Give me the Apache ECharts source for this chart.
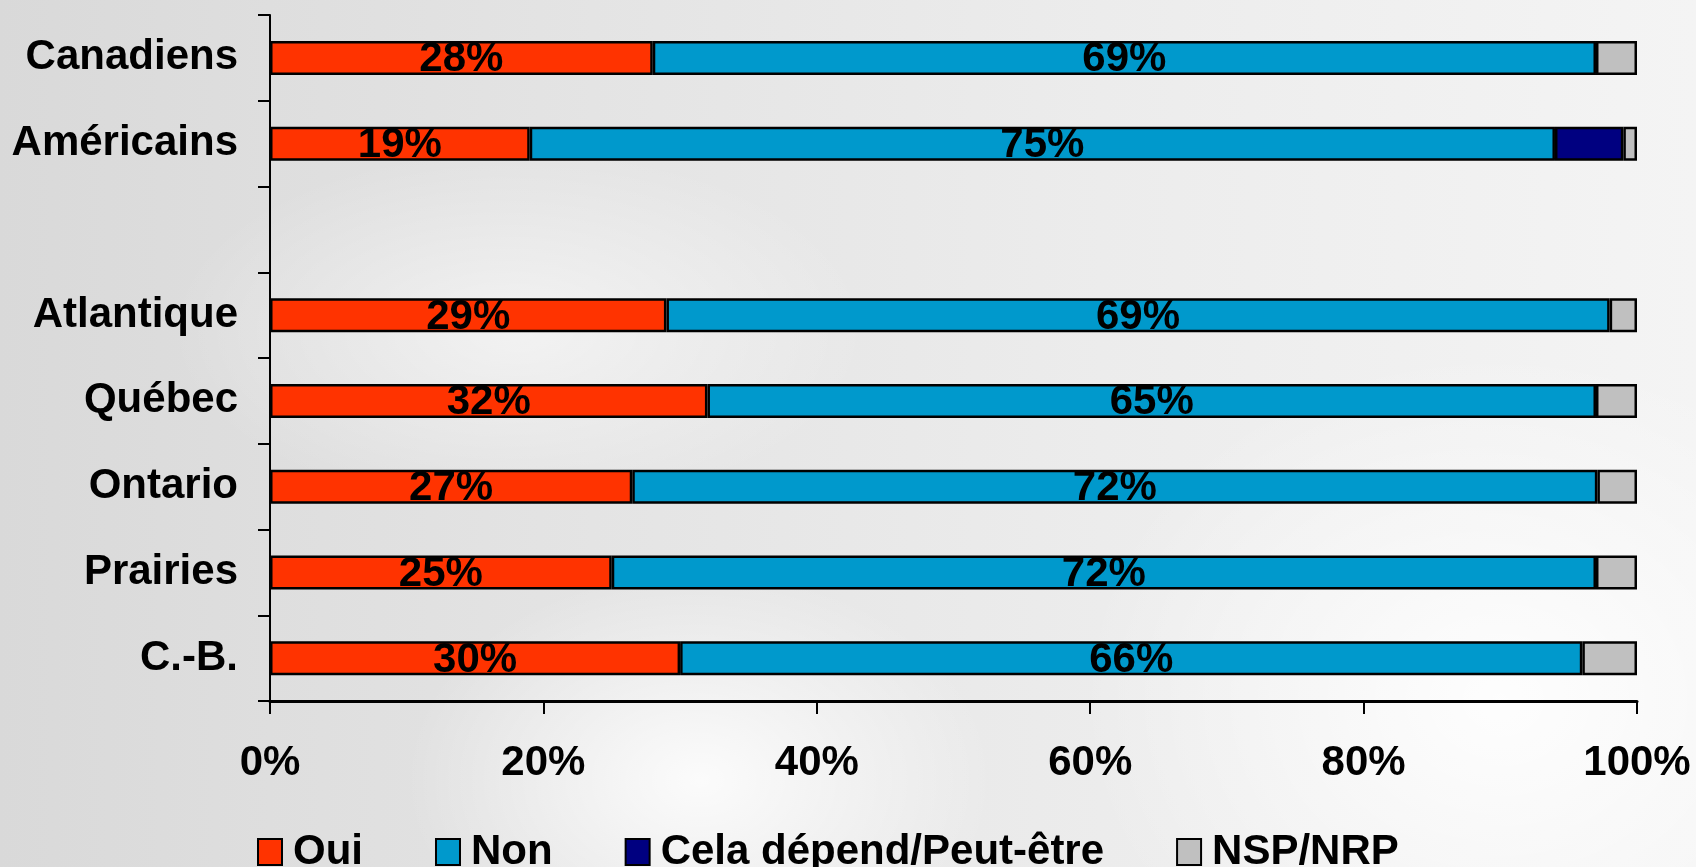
<!DOCTYPE html>
<html>
<head>
<meta charset="utf-8">
<title>Oui / Non</title>
<script src="https://cdn.jsdelivr.net/npm/echarts@6/dist/echarts.min.js"></script>
<style>
  html, body {
    margin: 0;
    padding: 0;
  }
  body {
    width: 1696px;
    height: 867px;
    background:
      radial-gradient(ellipse 420px 300px at 700px 780px, rgba(255,255,255,0.85), rgba(255,255,255,0) 70%),
      radial-gradient(ellipse 500px 260px at 520px 330px, rgba(255,255,255,0.55), rgba(255,255,255,0) 70%),
      radial-gradient(ellipse 600px 500px at 1500px 700px, rgba(255,255,255,0.9), rgba(255,255,255,0) 70%),
      linear-gradient(90deg, #d9d9d9 0%, #e4e4e4 35%, #ececec 65%, #f4f4f4 100%);
  }
  #chart {
    width: 1696px;
    height: 867px;
  }
</style>
</head>
<body>
<div id="chart"></div>
<script>
  // categories, top to bottom (empty slot between the two groups)
  const categories = ['Canadiens', 'Américains', '', 'Atlantique', 'Québec', 'Ontario', 'Prairies', 'C.-B.']
  const seriesNames = ['Oui', 'Non', 'Cela dépend/Peut-être', 'NSP/NRP']

  // values (percent)
  const oui = [28, 19, null, 29, 32, 26.5, 25, 30]
  const non = [69, 75, null, 69, 65, 70.6, 72, 66]
  const cela = [null, 5, null, null, null, null, null, null]
  const nsp = [3, 1, null, 2, 3, 2.9, 3, 4]

  // printed labels inside the bars
  const ouiLabels = ['28%', '19%', '', '29%', '32%', '27%', '25%', '30%']
  const nonLabels = ['69%', '75%', '', '69%', '65%', '72%', '72%', '66%']

  const xTicks = [0, 20, 40, 60, 80, 100]

  const colors = ['#FF3300', '#0099CC', '#000080', '#C0C0C0']
  const font = '"Liberation Sans", Arial, sans-serif'

  const chart = echarts.init(document.getElementById('chart'), null, { renderer: 'canvas' })

  function makeSeries (name, data, color, labels) {
    return {
      name: name,
      type: 'bar',
      stack: 'total',
      barWidth: 34,
      data: data,
      itemStyle: {
        color: color,
        borderColor: '#000',
        borderWidth: 2.5
      },
      label: {
        show: !!labels,
        position: 'inside',
        offset: [0, 2],
        color: '#000',
        fontFamily: font,
        fontWeight: 'bold',
        fontSize: 42,
        formatter: function (p) {
          return labels ? labels[p.dataIndex] : ''
        }
      },
      emphasis: { disabled: true },
      animation: false
    }
  }

  const option = {
    animation: false,
    color: colors,
    textStyle: { fontFamily: font },
    grid: {
      left: 270,
      right: 59,
      top: 15,
      bottom: 166,
      containLabel: false
    },
    legend: {
      data: seriesNames,
      left: 252,
      top: 826,
      itemWidth: 24,
      itemHeight: 26,
      itemGap: 72,
      icon: 'rect',
      itemStyle: { borderColor: '#000', borderWidth: 2 },
      textStyle: {
        fontFamily: font,
        fontWeight: 'bold',
        fontSize: 42,
        color: '#000',
        padding: [0, 0, 0, 6]
      },
      selectedMode: false
    },
    xAxis: {
      type: 'value',
      min: xTicks[0],
      max: xTicks[xTicks.length - 1],
      interval: 20,
      axisLine: { show: true, lineStyle: { color: '#000', width: 3 } },
      axisTick: { show: true, length: 13, lineStyle: { color: '#000', width: 2 } },
      splitLine: { show: false },
      axisLabel: {
        margin: 41,
        color: '#000',
        fontFamily: font,
        fontWeight: 'bold',
        fontSize: 42,
        formatter: '{value}%'
      }
    },
    yAxis: {
      type: 'category',
      data: categories,
      inverse: true,
      axisLine: { show: true, lineStyle: { color: '#000', width: 2 } },
      axisTick: { show: true, length: 12, lineStyle: { color: '#000', width: 2 } },
      axisLabel: {
        margin: 32,
        color: '#000',
        fontFamily: font,
        fontWeight: 'bold',
        fontSize: 42
      }
    },
    series: [
      makeSeries(seriesNames[0], oui, colors[0], ouiLabels),
      makeSeries(seriesNames[1], non, colors[1], nonLabels),
      makeSeries(seriesNames[2], cela, colors[2], null),
      makeSeries(seriesNames[3], nsp, colors[3], null)
    ]
  }

  chart.setOption(option)
</script>
</body>
</html>
